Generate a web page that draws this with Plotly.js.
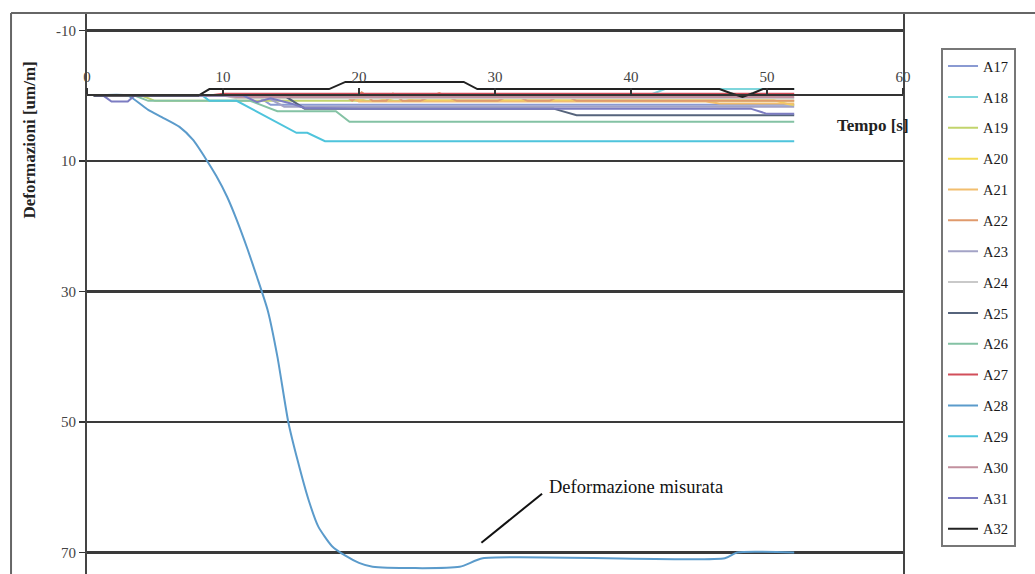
<!DOCTYPE html>
<html>
<head>
<meta charset="utf-8">
<script src="https://cdn.plot.ly/plotly-3.0.1.min.js"></script>
<style>html,body{margin:0;padding:0;background:#fff}#chart{width:1035px;height:574px}</style>
</head>
<body>
<div id="chart"></div>
<script>
// ---- data (time in s, deformation in um/m) ----
const names = ["A17","A18","A19","A20","A21","A22","A23","A24","A25","A26","A27","A28","A29","A30","A31","A32"];
const colors = ["#8A9AD2","#7ED6DC","#C2D46C","#F2DA55","#F2BE6E","#E09A6C","#A3A3C6","#C9C9C9","#56647C","#84C2A4","#D24E5A","#5B9BCB","#4EC4DC","#C2909E","#7C7CC2","#222222"];

const tA17 = [0.5, 12.5, 13.5, 52];
const vA17 = [0, 0, 1.4, 1.4];
const tA18 = [0.5, 40, 41, 42.5, 52];
const vA18 = [0, 0, 0.2, -1.0, -1.0];
const tA19 = [0.5, 4, 5, 52];
const vA19 = [0, 0, 0.8, 0.8];
const tA20 = [0.5, 19, 20, 21, 22, 23, 24, 50.5, 51.5, 52];
const vA20 = [0, 0, 0.7, 0.1, 0.7, 0.1, 0.7, 0.7, 1.3, 1.5];
const tA21 = [0.5, 19, 20, 45.5, 46.5, 52];
const vA21 = [0, 0, 0.9, 0.9, 1.2, 1.2];
const tA22 = [0.5, 19, 19.5, 20.2, 21, 22, 22.5, 23.2, 24.5, 25.9, 27.2, 30.2, 31.3, 32.4, 34, 35, 36, 52];
const vA22 = [0, 0, 0.8, -0.5, 0.8, 0.8, -0.3, 0.8, 0.8, -0.4, 0.8, 0.8, -0.2, 0.8, 0.8, -0.2, 0.8, 0.8];
const tA23 = [0.5, 13, 14.5, 52];
const vA23 = [0, 0, 1.7, 1.7];
const tA24 = [0.5, 10, 11, 52];
const vA24 = [0, 0, 0.4, 0.4];
const tA25 = [0.5, 14.5, 16, 34.3, 36, 52];
const vA25 = [0, 0, 2.0, 2.0, 3.0, 3.0];
const tA26 = [0.5, 3.5, 4.5, 12, 14, 18.3, 19.3, 52];
const vA26 = [0, 0, 0.8, 0.8, 2.4, 2.4, 4.0, 4.0];
const tA27 = [0.5, 9, 10, 52];
const vA27 = [0, 0, -0.3, -0.3];
const tA28 = [0.5, 3, 4.5, 5.5, 6.8, 7.8, 8.8, 9.5, 10.3, 11, 11.8, 12.5, 13.3, 14, 14.8, 15.5, 16.3, 17, 18, 19, 20, 21, 27.4, 29.1, 46.9, 47.8, 52];
const vA28 = [0, 0, 2.2, 3.3, 4.8, 6.8, 9.9, 12.3, 15.5, 19, 23.5, 27.8, 33, 40, 50, 56, 62, 66, 69, 70.5, 71.6, 72.2, 72.2, 70.9, 70.9, 70, 70];
const tA29 = [0.5, 8.5, 9, 11, 15.4, 16.2, 17.5, 52];
const vA29 = [0, 0, 0.8, 0.8, 5.7, 5.7, 7.0, 7.0];
const tA30 = [0.5, 10, 11, 52];
const vA30 = [0, 0, 0.2, 0.2];
const tA31 = [0.5, 1.2, 1.8, 3.0, 3.5, 11.5, 12.5, 13.5, 15, 16, 20, 48.8, 50, 52];
const vA31 = [0, 0, 0.9, 0.9, 0, 0, 1.0, 0.4, 1.2, 1.9, 2.0, 2.0, 2.8, 2.8];
const tA32 = [0.5, 8.2, 9, 17.8, 19, 27.7, 28.7, 46.5, 47.3, 48.2, 49.0, 49.7, 52];
const vA32 = [0, 0, -1, -1, -2.1, -2.1, -1.0, -1.0, -0.4, 0.2, -0.4, -1.0, -1.0];

const xTicks = [0, 10, 20, 30, 40, 50, 60];
const yTicks = [-10, 10, 30, 50, 70];

const ts = [tA17,tA18,tA19,tA20,tA21,tA22,tA23,tA24,tA25,tA26,tA27,tA28,tA29,tA30,tA31,tA32];
const vs = [vA17,vA18,vA19,vA20,vA21,vA22,vA23,vA24,vA25,vA26,vA27,vA28,vA29,vA30,vA31,vA32];

const serif = "Liberation Serif, Times New Roman, serif";
const traces = names.map((n, i) => ({
  type: "scatter", mode: "lines", name: n, x: ts[i], y: vs[i],
  legendgroup: n,
  line: {color: colors[i], width: 2, shape: n === "A28" ? "spline" : "linear", smoothing: 0.6},
  hoverinfo: "skip"
}));

const layout = {
  width: 1035, height: 574,
  margin: {l: 87, r: 132, t: 14, b: 0, pad: 0},
  paper_bgcolor: "#fff", plot_bgcolor: "#fff",
  font: {family: serif, size: 14, color: "#333"},
  showlegend: true,
  legend: {
    x: 1.0466, y: 0.939, xanchor: "left", yanchor: "top",
    bordercolor: "#777", borderwidth: 2, bgcolor: "#fff",
    tracegroupgap: 9, font: {family: serif, size: 14.5, color: "#1a1a1a"}
  },
  xaxis: {
    range: [0, 60], tickvals: xTicks, ticktext: xTicks.map(String),
    side: "top", anchor: "free", position: 0.8545,
    showline: true, linecolor: "#333", linewidth: 2,
    ticks: "outside", ticklen: 6, tickcolor: "#333", tickwidth: 1.5,
    showgrid: false, zeroline: false,
    tickfont: {family: serif, size: 15, color: "#444"}
  },
  yaxis: {
    range: [73.3, -12.5], tickvals: yTicks, ticktext: yTicks.map(String),
    showline: true, mirror: true, linecolor: "#444", linewidth: 2,
    ticks: "outside", ticklen: 6, tickcolor: "#333", tickwidth: 1.5,
    showgrid: true, gridcolor: "#3a3a3a", gridwidth: 2.5,
    zeroline: false,
    tickfont: {family: serif, size: 15, color: "#444"}
  },
  shapes: [
    {type: "line", xref: "paper", yref: "paper", x0: -0.0931, x1: -0.0931, y0: -0.05, y1: 1.0018, line: {color: "#666", width: 2}},
    {type: "line", xref: "paper", yref: "paper", x0: -0.0931, x1: 1.17, y0: 1.0018, y1: 1.0018, line: {color: "#666", width: 2}},
    {type: "line", xref: "x", yref: "y", x0: 29.0, y0: 68.5, x1: 33.46, y1: 61.0, line: {color: "#111", width: 2}}
  ],
  annotations: [
    {text: "Deformazione misurata", xref: "x", yref: "y", x: 33.8, y: 59.9, xanchor: "left", yanchor: "middle", showarrow: false,
     font: {family: serif, size: 18.5, color: "#111"}},
    {text: "<b>Tempo [s]</b>", xref: "paper", yref: "paper", x: 0.963, y: 0.8, xanchor: "center", yanchor: "middle", showarrow: false,
     font: {family: serif, size: 17, color: "#222"}},
    {text: "<b>Deformazioni [um/m]</b>", xref: "paper", yref: "paper", x: -0.0705, y: 0.775, xanchor: "center", yanchor: "middle", showarrow: false,
     textangle: -90, font: {family: serif, size: 17, color: "#222"}}
  ]
};

Plotly.newPlot("chart", traces, layout, {displayModeBar: false, staticPlot: true});
</script>
</body>
</html>
